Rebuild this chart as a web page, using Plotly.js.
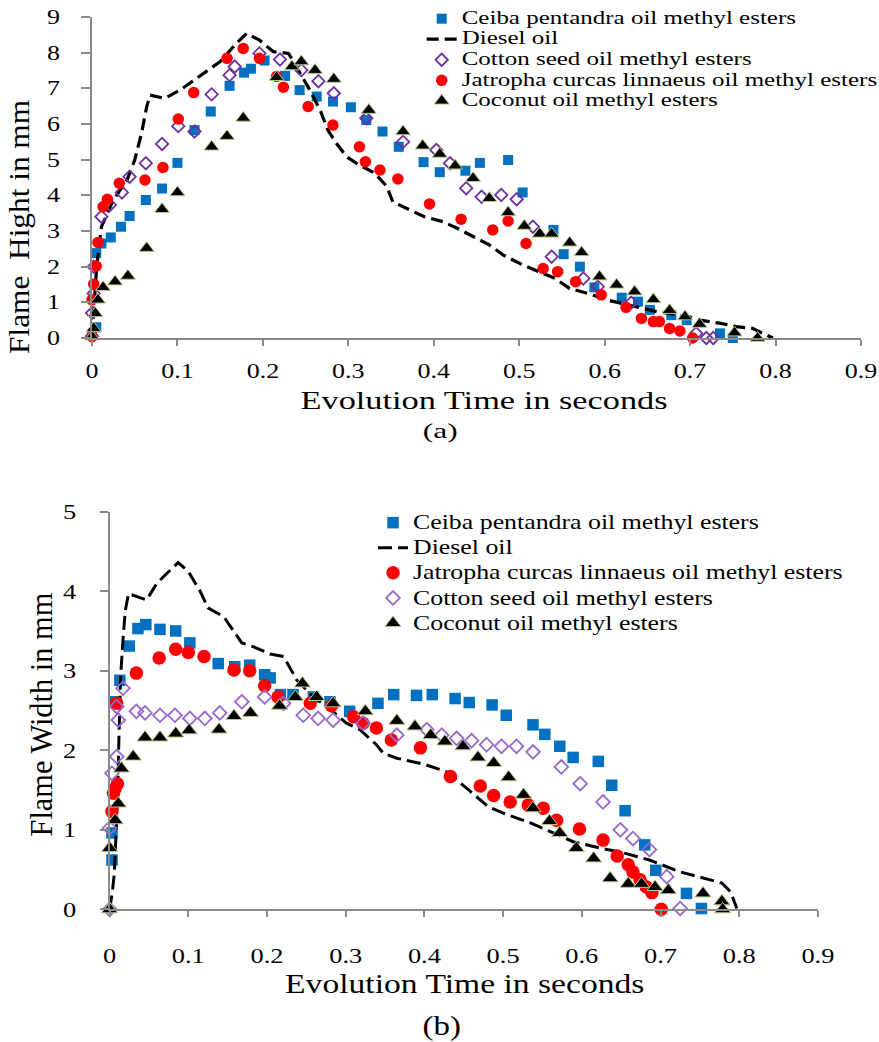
<!DOCTYPE html>
<html>
<head>
<meta charset="utf-8">
<script src="https://cdn.plot.ly/plotly-3.0.1.min.js"></script>
<style>
html,body{margin:0;padding:0;background:#fff;}
#chart{width:879px;height:1042px;}
</style>
</head>
<body>
<div id="chart"></div>
<script>
// ---------- Series names ----------
var seriesNames = {
  ceiba: 'Ceiba pentandra oil methyl esters',
  diesel: 'Diesel oil',
  cotton: 'Cotton seed oil methyl esters',
  jatropha: 'Jatropha curcas linnaeus oil methyl esters',
  coconut: 'Coconut oil methyl esters'
};

// ---------- (a) Flame height ----------
var ceibaA_x = [0, 0.005, 0.005, 0.011, 0.022, 0.034, 0.044, 0.063, 0.082, 0.100, 0.120, 0.139, 0.161, 0.178, 0.186, 0.202, 0.226, 0.243, 0.263, 0.282, 0.303, 0.321, 0.340, 0.359, 0.388, 0.407, 0.437, 0.454, 0.487, 0.504, 0.540, 0.552, 0.571, 0.588, 0.620, 0.639, 0.653, 0.678, 0.696, 0.735, 0.750];
var ceibaA_y = [0.1, 0.3, 2.38, 2.65, 2.82, 3.12, 3.42, 3.87, 4.19, 4.91, 5.83, 6.35, 7.07, 7.44, 7.55, 7.78, 7.35, 6.95, 6.77, 6.63, 6.47, 6.11, 5.79, 5.36, 4.93, 4.65, 4.69, 4.91, 4.99, 4.08, 3.03, 2.35, 2.0, 1.42, 1.13, 1.02, 0.79, 0.64, 0.50, 0.13, 0.0];

var dieselA_x = [0, 0.0055, 0.011, 0.025, 0.041, 0.050, 0.058, 0.064, 0.068, 0.085, 0.103, 0.122, 0.150, 0.169, 0.181, 0.196, 0.212, 0.230, 0.239, 0.255, 0.267, 0.276, 0.286, 0.298, 0.313, 0.331, 0.345, 0.352, 0.372, 0.389, 0.411, 0.428, 0.465, 0.481, 0.504, 0.522, 0.542, 0.559, 0.586, 0.602, 0.661, 0.676, 0.695, 0.711, 0.736, 0.754, 0.773, 0.785, 0.797];
var dieselA_y = [0.04, 2.0, 3.12, 3.87, 4.43, 4.99, 5.74, 6.48, 6.81, 6.72, 6.95, 7.28, 7.75, 8.26, 8.54, 8.35, 8.03, 7.98, 7.61, 6.95, 6.39, 5.83, 5.46, 5.08, 4.85, 4.62, 4.25, 3.82, 3.59, 3.40, 3.26, 3.07, 2.61, 2.33, 2.05, 1.86, 1.67, 1.39, 1.21, 1.07, 0.74, 0.69, 0.60, 0.50, 0.41, 0.32, 0.27, 0.13, 0.0];

var cottonA_x = [0, 0, 0.002, 0.002, 0.011, 0.021, 0.035, 0.044, 0.063, 0.082, 0.101, 0.120, 0.140, 0.161, 0.167, 0.196, 0.220, 0.245, 0.265, 0.283, 0.321, 0.364, 0.403, 0.419, 0.438, 0.456, 0.479, 0.497, 0.516, 0.538, 0.575, 0.592, 0.631, 0.707, 0.719, 0.727];
var cottonA_y = [0.05, 0.7, 1.25, 2.0, 3.4, 3.73, 4.08, 4.52, 4.90, 5.44, 5.94, 5.79, 6.83, 7.37, 7.61, 7.98, 7.81, 7.51, 7.20, 6.86, 6.16, 5.50, 5.27, 4.90, 4.20, 3.96, 4.01, 3.89, 3.12, 2.28, 1.67, 1.44, 0.99, 0.13, 0.0, 0.0];

var jatrophaA_x = [0, 0, 0.002, 0.005, 0.007, 0.013, 0.018, 0.032, 0.062, 0.083, 0.101, 0.119, 0.158, 0.177, 0.196, 0.216, 0.224, 0.253, 0.282, 0.313, 0.320, 0.337, 0.358, 0.395, 0.432, 0.469, 0.487, 0.508, 0.528, 0.545, 0.566, 0.596, 0.625, 0.643, 0.657, 0.664, 0.676, 0.688, 0.703];
var jatrophaA_y = [0.04, 1.07, 1.51, 2.02, 2.68, 3.68, 3.89, 4.34, 4.43, 4.78, 6.14, 6.88, 7.84, 8.12, 7.84, 7.33, 7.03, 6.49, 5.97, 5.36, 4.94, 4.71, 4.46, 3.76, 3.33, 3.03, 3.28, 2.65, 1.95, 1.86, 1.58, 1.21, 0.86, 0.55, 0.46, 0.46, 0.27, 0.20, 0.0];

var coconutA_x = [0, 0.002, 0.004, 0.007, 0.013, 0.027, 0.042, 0.064, 0.082, 0.100, 0.140, 0.158, 0.177, 0.216, 0.234, 0.245, 0.261, 0.283, 0.324, 0.364, 0.387, 0.407, 0.425, 0.446, 0.465, 0.487, 0.506, 0.524, 0.538, 0.559, 0.573, 0.594, 0.614, 0.635, 0.657, 0.676, 0.694, 0.711, 0.752, 0.779];
var coconutA_y = [0.04, 0.27, 0.69, 1.07, 1.42, 1.58, 1.74, 2.52, 3.61, 4.08, 5.36, 5.66, 6.17, 7.31, 7.61, 7.75, 7.51, 7.26, 6.39, 5.79, 5.39, 5.16, 4.83, 4.48, 3.92, 3.52, 3.14, 2.92, 2.92, 2.67, 2.40, 1.72, 1.49, 1.30, 1.08, 0.78, 0.60, 0.39, 0.15, 0.0];

// ---------- (b) Flame width ----------
var ceibaB_x = [0.003, 0.003, 0.007, 0.013, 0.025, 0.036, 0.046, 0.064, 0.084, 0.102, 0.138, 0.159, 0.178, 0.197, 0.204, 0.217, 0.233, 0.259, 0.280, 0.305, 0.341, 0.361, 0.390, 0.410, 0.439, 0.457, 0.486, 0.504, 0.538, 0.553, 0.572, 0.589, 0.621, 0.638, 0.655, 0.680, 0.694, 0.733, 0.752];
var ceibaB_y = [0.62, 0.96, 2.61, 2.88, 3.31, 3.53, 3.58, 3.52, 3.50, 3.35, 3.09, 3.05, 3.07, 2.95, 2.91, 2.70, 2.70, 2.67, 2.61, 2.49, 2.59, 2.70, 2.69, 2.70, 2.65, 2.60, 2.57, 2.44, 2.32, 2.20, 2.05, 1.91, 1.86, 1.56, 1.24, 0.81, 0.49, 0.20, 0.01];

var dieselB_x = [0, 0.003, 0.006, 0.008, 0.010, 0.012, 0.014, 0.017, 0.020, 0.024, 0.047, 0.060, 0.087, 0.100, 0.115, 0.125, 0.145, 0.168, 0.183, 0.204, 0.221, 0.238, 0.259, 0.276, 0.301, 0.318, 0.339, 0.348, 0.365, 0.401, 0.428, 0.454, 0.481, 0.505, 0.534, 0.564, 0.589, 0.623, 0.649, 0.686, 0.725, 0.763, 0.778, 0.789, 0.797];
var dieselB_y = [0, 0.18, 0.45, 0.83, 1.37, 2.21, 2.93, 3.39, 3.76, 3.97, 3.89, 4.10, 4.36, 4.25, 4.00, 3.79, 3.68, 3.35, 3.30, 3.21, 3.18, 2.88, 2.67, 2.55, 2.34, 2.26, 2.07, 1.96, 1.90, 1.82, 1.73, 1.52, 1.29, 1.19, 1.09, 0.96, 0.85, 0.77, 0.72, 0.62, 0.47, 0.37, 0.33, 0.22, 0.01];

var jatrophaB_x = [0.003, 0.005, 0.007, 0.010, 0.009, 0.034, 0.063, 0.084, 0.100, 0.120, 0.158, 0.178, 0.197, 0.214, 0.255, 0.282, 0.310, 0.322, 0.339, 0.358, 0.395, 0.433, 0.471, 0.488, 0.509, 0.532, 0.551, 0.568, 0.597, 0.627, 0.645, 0.659, 0.665, 0.674, 0.682, 0.689, 0.701];
var jatrophaB_y = [1.23, 1.46, 1.52, 1.58, 2.59, 2.97, 3.16, 3.27, 3.23, 3.18, 3.01, 3.00, 2.81, 2.67, 2.59, 2.56, 2.42, 2.34, 2.28, 2.13, 2.03, 1.67, 1.55, 1.43, 1.35, 1.31, 1.27, 1.12, 1.01, 0.87, 0.67, 0.56, 0.47, 0.37, 0.28, 0.21, 0.0];

var cottonB_x = [0, 0, 0.003, 0.009, 0.011, 0.009, 0.017, 0.034, 0.045, 0.064, 0.083, 0.102, 0.121, 0.140, 0.168, 0.197, 0.221, 0.246, 0.265, 0.284, 0.322, 0.365, 0.403, 0.422, 0.441, 0.460, 0.479, 0.498, 0.517, 0.538, 0.574, 0.598, 0.627, 0.649, 0.665, 0.686, 0.708, 0.725];
var cottonB_y = [0, 1.02, 1.71, 1.92, 2.38, 2.55, 2.78, 2.49, 2.47, 2.44, 2.44, 2.40, 2.40, 2.47, 2.61, 2.67, 2.59, 2.44, 2.40, 2.38, 2.34, 2.19, 2.26, 2.19, 2.15, 2.12, 2.07, 2.05, 2.05, 1.98, 1.79, 1.58, 1.35, 1.00, 0.89, 0.75, 0.41, 0.01];

var coconutB_x = [0, 0, 0.007, 0.011, 0.015, 0.030, 0.045, 0.064, 0.084, 0.101, 0.139, 0.158, 0.179, 0.216, 0.236, 0.245, 0.263, 0.284, 0.325, 0.365, 0.388, 0.408, 0.426, 0.449, 0.468, 0.488, 0.507, 0.526, 0.538, 0.559, 0.572, 0.593, 0.615, 0.636, 0.659, 0.676, 0.693, 0.710, 0.754, 0.778, 0.779];
var coconutB_y = [0, 0.77, 1.12, 1.33, 1.77, 1.92, 2.16, 2.16, 2.21, 2.25, 2.26, 2.43, 2.47, 2.56, 2.67, 2.84, 2.67, 2.59, 2.49, 2.37, 2.30, 2.19, 2.11, 2.05, 1.91, 1.84, 1.66, 1.44, 1.27, 1.11, 0.96, 0.77, 0.64, 0.39, 0.32, 0.32, 0.28, 0.24, 0.20, 0.10, 0.0];

// ---------- Ticks and titles ----------
var xTickVals = [0, 0.1, 0.2, 0.3, 0.4, 0.5, 0.6, 0.7, 0.8, 0.9];
var xTickText = ['0', '0.1', '0.2', '0.3', '0.4', '0.5', '0.6', '0.7', '0.8', '0.9'];
var yTickValsA = [0, 1, 2, 3, 4, 5, 6, 7, 8, 9];
var yTickValsB = [0, 1, 2, 3, 4, 5];
var xTitle = 'Evolution Time in seconds';
var yTitleA = 'Flame\u00a0 Hight in mm';
var yTitleB = 'Flame Width in mm';
var panelA = '(a)';
var panelB = '(b)';

// ---------- Styles ----------
var FONT = 'Liberation Serif, Times New Roman, serif';
var BLUE = '#0070C0', RED = '#FF0000', PURPLE = '#7030A0', PURPLE2 = '#9966CC', AX = '#8a8a8a';

function markerTrace(x, y, name, xa, ya, lg, marker) {
  return {type:'scatter', mode:'markers', x:x, y:y, name:name, xaxis:xa, yaxis:ya,
          legend:lg, marker:marker, cliponaxis:false, hoverinfo:'skip'};
}
function lineTrace(x, y, name, xa, ya, lg, dash, w) {
  return {type:'scatter', mode:'lines', x:x, y:y, name:name, xaxis:xa, yaxis:ya,
          legend:lg, line:{color:'#000', width:w, dash:dash}, cliponaxis:false, hoverinfo:'skip'};
}

var triLine = {color:'#b8cc8c', width:1};
var traces = [
  // (a)
  markerTrace(ceibaA_x, ceibaA_y, seriesNames.ceiba, 'x', 'y', 'legend', {symbol:'square', size:10, color:BLUE}),
  lineTrace(dieselA_x, dieselA_y, seriesNames.diesel, 'x', 'y', 'legend', '12px,6px', 3.2),
  markerTrace(cottonA_x, cottonA_y, seriesNames.cotton, 'x', 'y', 'legend', {symbol:'diamond-open', size:9.5, color:PURPLE, line:{width:1.8, color:PURPLE}}),
  markerTrace(jatrophaA_x, jatrophaA_y, seriesNames.jatropha, 'x', 'y', 'legend', {symbol:'circle', size:11.5, color:RED}),
  markerTrace(coconutA_x, coconutA_y, seriesNames.coconut, 'x', 'y', 'legend', {symbol:'triangle-up', size:13, color:'#000', line:triLine}),
  // (b)
  markerTrace(ceibaB_x, ceibaB_y, seriesNames.ceiba, 'x2', 'y2', 'legend2', {symbol:'square', size:11.5, color:BLUE}),
  lineTrace(dieselB_x, dieselB_y, seriesNames.diesel, 'x2', 'y2', 'legend2', '14px,6px', 3),
  markerTrace(jatrophaB_x, jatrophaB_y, seriesNames.jatropha, 'x2', 'y2', 'legend2', {symbol:'circle', size:13.5, color:RED}),
  markerTrace(cottonB_x, cottonB_y, seriesNames.cotton, 'x2', 'y2', 'legend2', {symbol:'diamond-open', size:10.5, color:PURPLE2, line:{width:1.8, color:PURPLE2}}),
  markerTrace(coconutB_x, coconutB_y, seriesNames.coconut, 'x2', 'y2', 'legend2', {symbol:'triangle-up', size:14, color:'#000', line:triLine})
];

function axisBase(extra) {
  var a = {showline:true, linecolor:AX, linewidth:2, ticks:'outside', tickcolor:AX, tickwidth:2,
           showgrid:false, zeroline:false, fixedrange:true, tickfont:{family:FONT, color:'#000'}};
  for (var k in extra) a[k] = extra[k];
  return a;
}

var layout = {
  width:879, height:1042,
  margin:{l:0, r:0, t:0, b:0},
  paper_bgcolor:'#ffffff', plot_bgcolor:'rgba(0,0,0,0)',
  font:{family:FONT, color:'#000'},
  showlegend:true,
  xaxis: axisBase({domain:[0.10466, 0.97952], range:[0, 0.9], anchor:'y', tickvals:xTickVals, ticktext:xTickText,
                   ticklen:6, ticklabelstandoff:8, tickfont:{family:FONT, size:20, color:'#000'}}),
  yaxis: axisBase({domain:[0.67562, 0.98369], range:[0, 9], anchor:'x', tickvals:yTickValsA,
                   ticklen:9, ticklabelstandoff:17, tickfont:{family:FONT, size:20, color:'#000'}}),
  xaxis2: axisBase({domain:[0.12469, 0.93049], range:[0, 0.9], anchor:'y2', tickvals:xTickVals, ticktext:xTickText,
                   ticklen:6, ticklabelstandoff:19, tickfont:{family:FONT, size:22, color:'#000'}}),
  yaxis2: axisBase({domain:[0.12735, 0.50893], range:[0, 5], anchor:'x2', tickvals:yTickValsB,
                   ticklen:8, ticklabelstandoff:19, tickfont:{family:FONT, size:22, color:'#000'}}),
  legend: {x:0.47975, y:0.99674, xanchor:'left', yanchor:'top', bgcolor:'rgba(0,0,0,0)', borderwidth:0,
           font:{family:FONT, size:13.5, color:'#000'}, tracegroupgap:0, itemwidth:30},
  legend2: {x:0.42435, y:0.51526, xanchor:'left', yanchor:'top', bgcolor:'rgba(0,0,0,0)', borderwidth:0,
           font:{family:FONT, size:17, color:'#000'}, tracegroupgap:0, itemwidth:30},
  annotations: [
    {text:xTitle, xref:'paper', yref:'paper', x:0.55063, y:0.61612, xanchor:'center', yanchor:'middle', showarrow:false, font:{family:FONT, size:26, color:'#000'}},
    {text:panelA, xref:'paper', yref:'paper', x:0.50057, y:0.58733, xanchor:'center', yanchor:'middle', showarrow:false, font:{family:FONT, size:22, color:'#000'}},
    {text:yTitleA, xref:'paper', yref:'paper', x:0.0215, y:0.7825, xanchor:'center', yanchor:'middle', textangle:-90, showarrow:false, font:{family:FONT, size:29, color:'#000'}},
    {text:xTitle, xref:'paper', yref:'paper', x:0.52810, y:0.05662, xanchor:'center', yanchor:'middle', showarrow:false, font:{family:FONT, size:28, color:'#000'}},
    {text:panelB, xref:'paper', yref:'paper', x:0.50250, y:0.01536, xanchor:'center', yanchor:'middle', showarrow:false, font:{family:FONT, size:27, color:'#000'}},
    {text:yTitleB, xref:'paper', yref:'paper', x:0.04642, y:0.31459, xanchor:'center', yanchor:'middle', textangle:-90, showarrow:false, font:{family:FONT, size:31, color:'#000'}}
  ]
};

// Horizontal text widening (the reference glyphs are wider than plain Times)
function widen(nodes, factor, fontPx) {
  Array.prototype.forEach.call(nodes, function(el) {
    if (el.getAttribute('data-widened') === '1') return;
    if (fontPx) el.style.fontSize = fontPx + 'px';
    var len = el.getComputedTextLength();
    if (len > 0) {
      el.setAttribute('textLength', (len * factor).toFixed(2));
      el.setAttribute('lengthAdjust', 'spacingAndGlyphs');
      el.setAttribute('data-widened', '1');
    }
  });
}

var annFactors = [1.32, 1.43, 1.08, 1.2, 1.22, 0.98];
var gdEl = document.getElementById('chart');

function applyText() {
  var gd = gdEl;
  widen(gd.querySelectorAll('g.xtick text'), 1.3);
  widen(gd.querySelectorAll('g.ytick text'), 1.3);
  widen(gd.querySelectorAll('g.x2tick text'), 1.2);
  widen(gd.querySelectorAll('g.y2tick text'), 1.2);
  // let the wider legend text show fully
  Array.prototype.forEach.call(gd.querySelectorAll('.scrollbox'), function(g) {
    g.removeAttribute('clip-path');
  });
  widen(gd.querySelectorAll('text.legendtext'), 1.35, 18.5);
  widen(gd.querySelectorAll('text.legend2text'), 1.23, 21);
  Array.prototype.forEach.call(gd.querySelectorAll('g.annotation'), function(g) {
    var i = +g.getAttribute('data-index');
    widen(g.querySelectorAll('text.annotation-text'), annFactors[i]);
  });
}

Plotly.newPlot(gdEl, traces, layout, {staticPlot:true, displayModeBar:false}).then(function(gd) {
  applyText();
  gd.on('plotly_afterplot', function() { applyText(); });
  setTimeout(applyText, 50);
  setTimeout(applyText, 200);
});
</script>
</body>
</html>
